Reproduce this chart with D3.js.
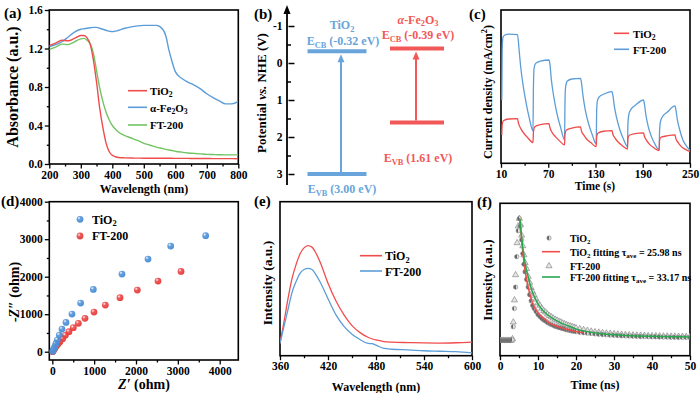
<!DOCTYPE html>
<html>
<head>
<meta charset="utf-8">
<script src="https://cdn.jsdelivr.net/npm/d3@7"></script>
<style>
  body { margin: 0; background: #fff; }
  text { font-family: "Liberation Serif", "Times New Roman", serif; font-weight: bold; }
</style>
</head>
<body>
<svg id="fig" width="700" height="393"></svg>
<script>
// ---------- data ----------

// (a) UV-vis absorbance
const absWl = [200,220,240,260,280,300,310,320,330,340,350,360,370,380,390,400,410,420,440,460,480,500,520,540,560,570,580,590,600,620,640,660,680,700,720,740,760,780,800];
const absTiO2 = [1.23,1.255,1.285,1.28,1.305,1.335,1.335,1.31,1.24,1.08,0.85,0.58,0.38,0.22,0.13,0.09,0.075,0.068,0.064,0.062,0.061,0.06,0.06,0.06,0.059,0.059,0.059,0.059,0.058,0.058,0.058,0.057,0.057,0.057,0.056,0.056,0.056,0.056,0.055];
const absFe2O3 = [1.22,1.24,1.27,1.32,1.37,1.40,1.405,1.41,1.415,1.42,1.42,1.41,1.40,1.39,1.38,1.375,1.38,1.39,1.41,1.425,1.435,1.44,1.44,1.44,1.40,1.33,1.18,1.06,0.96,0.89,0.85,0.82,0.78,0.73,0.69,0.655,0.625,0.625,0.65];
const absFT200 = [1.19,1.215,1.245,1.24,1.27,1.30,1.305,1.285,1.25,1.15,0.97,0.79,0.65,0.54,0.46,0.40,0.36,0.33,0.295,0.27,0.245,0.215,0.195,0.175,0.16,0.152,0.145,0.14,0.133,0.123,0.115,0.11,0.105,0.10,0.098,0.096,0.095,0.095,0.095];

// (b) band positions (V vs NHE)
const bandNames = ["TiO2", "Fe2O3"];
const bandECB = [-0.32, -0.39];
const bandEVB = [3.00, 1.61];

// (c) transient photocurrent (arbitrary units)
const ftTime = [11,11.5,12.5,15,20,31, 33,35,38,42,46,50.6, 51.2,52,54,60,71, 72,74,77,81,86,90.7, 91.3,92,94,100,111, 112,114,117,121,126,130.9, 131.5,132.5,135,141,151, 152,154,157,161,166,170.6, 171.2,172.5,175,181,191, 192,194,197,201,206,210.8, 211.4,212.5,215,221,231, 232,234,237,241,246,250];
const ftJ = [.413,.739,.822,.837,.843,.839, .739,.63,.511,.391,.293,.211, .5,.62,.652,.667,.674, .652,.543,.435,.326,.228,.152, .413,.496,.535,.55,.554, .533,.446,.348,.261,.185,.126, .348,.409,.435,.452,.467, .446,.37,.293,.217,.152,.109, .261,.322,.352,.38,.413, .391,.315,.239,.174,.12,.087, .217,.272,.304,.333,.374, .352,.283,.217,.152,.109,.083];
const tiTime = [11,11.5,13,20,31, 32,35,39,44,50.6, 51.2,53,60,71, 72,75,79,84,90.7, 91.3,93,100,111, 112,115,119,124,130.9, 131.5,133,140,151, 152,155,159,164,170.6, 171.2,173,180,191, 192,195,199,204,210.8, 211.4,213,220,231, 232,235,239,244,250];
const tiJ = [.185,.25,.278,.289,.291, .265,.228,.196,.167,.135, .207,.239,.252,.259, .235,.2,.174,.148,.12, .191,.217,.23,.237, .213,.185,.157,.135,.109, .174,.196,.209,.213, .191,.163,.137,.115,.093, .163,.183,.193,.198, .178,.148,.122,.102,.083, .152,.17,.178,.185, .163,.135,.109,.091,.076];

// (d) Nyquist plot (ohm)
const tiZre = [8,24,40,64,88,120,167,231,327,470,677,980,1665,2287,2829,3665];
const tiZim = [9,44,89,151,222,311,444,604,782,1004,1298,1662,2071,2471,2818,3093];
const ftZre = [8,24,40,64,96,135,183,247,311,398,502,622,781,996,1267,1618,2032,2526,3076];
const ftZim = [0,27,62,98,151,204,267,347,436,533,640,756,889,1058,1244,1440,1644,1884,2142];

// (e) PL spectra (a.u.)
const plWl = [360,365,370,375,380,385,390,395,400,405,410,420,430,440,450,460,470,475,480,490,500,520,540,560,580,600];
const plTiO2 = [.08,.22,.37,.50,.59,.66,.70,.715,.705,.665,.61,.47,.355,.265,.195,.15,.12,.11,.102,.092,.088,.085,.083,.082,.084,.088];
const plFT200 = [.08,.19,.30,.41,.48,.535,.56,.567,.56,.525,.48,.37,.265,.19,.14,.105,.08,.078,.068,.047,.042,.038,.032,.029,.026,.018];

// (f) TRPL decay (a.u.)
const trTiT = [0,0.4,0.8,1.2,1.6,2.0,2.4,2.8,3.2,3.5,3.8,4.1,4.4,4.8,5.1,5.4,5.7,6.0,6.3,6.6,7.0,7.4,7.8,8.2,8.6,9.0,9.5,10,10.5,11,11.5,12,12.5,13,13.5,14,14.5,15,15.5,16,16.5,17,17.5,18,18.5,19,19.5,20,21,22,23,24,25,26,27,28,29,30,31,32,33,34,35,36,37,38,39,40,41,42,43,44,45,46,47,48,49,50];
const trTiV = [.10,.10,.10,.10,.10,.10,.10,.10,.105,.19,.31,.45,.65,.82,.90,.85,.76,.67,.60,.55,.50,.45,.40,.36,.33,.31,.29,.27,.258,.245,.235,.228,.218,.212,.205,.2,.193,.19,.185,.182,.178,.175,.17,.168,.165,.162,.16,.158,.154,.151,.148,.146,.143,.141,.139,.137,.135,.134,.133,.131,.13,.129,.128,.127,.126,.126,.125,.124,.124,.123,.122,.122,.121,.121,.12,.12,.12,.119];
const trFtT = [0.2,0.6,1.0,1.4,1.8,2.2,2.6,3.0,3.3,3.5,3.8,4.1,4.5,4.8,5.1,5.4,5.7,6.0,6.3,6.6,7.0,7.4,7.8,8.2,8.6,9.0,9.5,10,10.5,11,11.5,12,12.5,13,13.5,14,14.5,15,15.5,16,16.5,17,17.5,18,18.5,19,19.5,20,21,22,23,24,25,26,27,28,29,30,31,32,33,34,35,36,37,38,39,40,41,42,43,44,45,46,47,48,49,50];
const trFtV = [.10,.10,.10,.10,.10,.10,.10,.10,.11,.22,.365,.53,.74,.85,.90,.86,.79,.72,.66,.61,.57,.52,.48,.445,.42,.395,.37,.345,.33,.31,.295,.285,.272,.262,.254,.246,.238,.232,.225,.22,.213,.208,.203,.198,.194,.19,.186,.182,.176,.17,.165,.16,.156,.153,.15,.147,.145,.143,.141,.139,.138,.136,.135,.134,.133,.132,.131,.13,.13,.129,.128,.128,.127,.127,.126,.126,.125,.125];
const fitTiT = [5.2,5.6,6.0,6.5,7.0,7.5,8.0,8.5,9,10,11,12,13,14,15,16,17,18,19,20,21,22];
const fitTiV = [.90,.79,.68,.58,.50,.44,.39,.35,.32,.28,.255,.235,.215,.203,.193,.184,.177,.17,.164,.159,.155,.151];
const fitFtT = [5.2,5.6,6.0,6.5,7.0,7.5,8.0,8.5,9,10,11,12,13,14,15,16,18,20,22,24,26,28,30,33,36,40,45,50];
const fitFtV = [.90,.80,.71,.62,.56,.51,.46,.42,.39,.34,.305,.28,.26,.243,.228,.215,.195,.176,.163,.153,.146,.141,.137,.133,.13,.127,.125,.123];

// ---------- drawing ----------
const RED = "#f04c4c", BLUE = "#5c9dd8", GREEN = "#72c462", GREEN2 = "#26a94e";
const BRED = "#f25858", BBLUE = "#69a5da";
const svg = d3.select("#fig");
const defs = svg.append("defs");

// text with sub/superscripts: parts = [[string, kind]]
function rich(t, parts, fs) {
  let shift = 0;
  parts.forEach(([s, k]) => {
    const want = k === "sub" ? fs * 0.22 : k === "sup" ? -fs * 0.4 : 0;
    const sp = t.append("tspan").text(s).attr("dy", want - shift);
    if (k === "sub" || k === "sup") sp.attr("font-size", fs * 0.7);
    if (k === "it") sp.attr("font-style", "italic");
    shift = want;
  });
  return t;
}

function label(x, y, parts, fs, opts = {}) {
  const t = svg.append("text").attr("x", x).attr("y", y).attr("font-size", fs)
    .attr("text-anchor", opts.anchor || "start").attr("fill", opts.fill || "#000");
  if (opts.weight) t.attr("font-weight", opts.weight);
  return rich(t, parts, fs);
}

function yTitle(cx, cy, parts, fs) {
  const t = svg.append("text").attr("transform", `translate(${cx + fs * 0.33},${cy}) rotate(-90)`)
    .attr("font-size", fs).attr("text-anchor", "middle");
  return rich(t, parts, fs);
}

function styleAxis(g) {
  g.attr("font-family", null).attr("font-size", 11.5).attr("font-weight", "bold");
  g.selectAll(".domain").remove();
  g.selectAll("line").attr("stroke-width", 1.3);
  g.selectAll("text").attr("fill", "#000");
}

function frame(x, y, o) {
  const [x0, x1] = x.range(), [y0, y1] = y.range();
  const g = svg.append("g");
  if (o.xMinor) g.append("g").attr("transform", `translate(0,${y0})`)
    .call(d3.axisBottom(x).tickValues(o.xMinor).tickSize(2.5).tickFormat("")).call(styleAxis);
  if (o.xTicks) g.append("g").attr("transform", `translate(0,${y0})`)
    .call(d3.axisBottom(x).tickValues(o.xTicks).tickSize(4.5).tickPadding(2).tickFormat(o.xFmt || String)).call(styleAxis);
  if (o.yMinor) g.append("g").attr("transform", `translate(${x0},0)`)
    .call(d3.axisLeft(y).tickValues(o.yMinor).tickSize(2.5).tickFormat("")).call(styleAxis);
  if (o.yTicks) g.append("g").attr("transform", `translate(${x0},0)`)
    .call(d3.axisLeft(y).tickValues(o.yTicks).tickSize(4.5).tickPadding(2).tickFormat(o.yFmt || String)).call(styleAxis);
  g.append("rect").attr("x", x0).attr("y", y1).attr("width", x1 - x0).attr("height", y0 - y1)
    .attr("fill", "none").attr("stroke", "#000").attr("stroke-width", 1.6);
  const id = "clip" + o.name;
  defs.append("clipPath").attr("id", id).append("rect")
    .attr("x", x0).attr("y", y1).attr("width", x1 - x0).attr("height", y0 - y1);
  return svg.append("g").attr("clip-path", `url(#${id})`);
}

function path(g, xs, ys, x, y, color, w) {
  g.append("path").datum(xs.map((v, i) => [v, ys[i]]))
    .attr("fill", "none").attr("stroke", color).attr("stroke-width", w || 1.4)
    .attr("d", d3.line().x(d => x(d[0])).y(d => y(d[1])).curve(d3.curveMonotoneX));
}

function legLine(x0, x1, y, color, w) {
  svg.append("line").attr("x1", x0).attr("x2", x1).attr("y1", y).attr("y2", y)
    .attr("stroke", color).attr("stroke-width", w || 1.6);
}

// panel labels
[["(a)", 4, 18], ["(b)", 254, 19], ["(c)", 469, 19], ["(d)", 1, 206], ["(e)", 254, 206], ["(f)", 477, 207]]
  .forEach(([s, x, y]) => label(x, y, [[s]], 15));

// ---- (a) ----
{
  const x = d3.scaleLinear().domain([200, 800]).range([49.3, 238.3]);
  const y = d3.scaleLinear().domain([0, 1.6]).range([164, 10]);
  const g = frame(x, y, { name: "a", xTicks: d3.range(200, 801, 100), xMinor: d3.range(250, 800, 100),
    yTicks: [0, 0.4, 0.8, 1.2, 1.6], yMinor: [0.2, 0.6, 1.0, 1.4], yFmt: d3.format(".1f") });
  path(g, absWl, absFe2O3, x, y, BLUE);
  path(g, absWl, absFT200, x, y, GREEN);
  path(g, absWl, absTiO2, x, y, RED);
  yTitle(13, 87, [["Absorbance (a.u.)"]], 16);
  label(144, 193, [["Wavelength (nm)"]], 12, { anchor: "middle" });
  legLine(128, 147, 90.7, RED); legLine(128, 147, 107.3, BLUE); legLine(128, 147, 125, GREEN);
  label(150, 95, [["TiO"], ["2", "sub"]], 11);
  label(150, 111.5, [["α-Fe"], ["2", "sub"], ["O"], ["3", "sub"]], 11);
  label(150, 129, [["FT-200"]], 11);
}

// ---- (b) ----
{
  const y = d3.scaleLinear().domain([-1, 3]).range([26, 174]);
  const x = d3.scalePoint().domain(bandNames).range([337, 417]);
  const ax = 287;
  const gb = svg.append("g");
  gb.append("g").attr("transform", `translate(${ax},0)`)
    .call(d3.axisLeft(y).tickValues([-0.5, 0.5, 1.5, 2.5]).tickSize(-4).tickFormat("")).call(styleAxis);
  gb.append("g").attr("transform", `translate(${ax + 1.5},0)`)
    .call(d3.axisLeft(y).tickValues([-1, 0, 1, 2, 3]).tickSize(-6).tickPadding(6).tickFormat(String)).call(styleAxis);
  gb.selectAll("line").attr("stroke-width", 1.5);
  gb.append("line").attr("x1", ax).attr("x2", ax).attr("y1", 185).attr("y2", 12)
    .attr("stroke", "#000").attr("stroke-width", 1.8);
  gb.append("path").attr("d", `M${ax},5 L${ax - 3.5},14 L${ax + 3.5},14 Z`).attr("fill", "#000");
  yTitle(262, 93, [["Potential "], ["vs.", "it"], [" NHE (V)"]], 13);

  const cols = [BBLUE, BRED];
  const barW = [59, 54];
  bandNames.forEach((n, i) => {
    const cx = x(n), c = cols[i];
    [bandECB[i], bandEVB[i]].forEach(v => {
      svg.append("line").attr("x1", cx - barW[i] / 2).attr("x2", cx + barW[i] / 2)
        .attr("y1", y(v)).attr("y2", y(v)).attr("stroke", c).attr("stroke-width", 4);
    });
    const ax2 = cx + (i === 0 ? 4 : -1);
    svg.append("line").attr("x1", ax2).attr("x2", ax2).attr("y1", y(bandEVB[i]) - 2).attr("y2", y(bandECB[i]) + 10)
      .attr("stroke", c).attr("stroke-width", 2);
    const tip = y(bandECB[i]) + 3;
    svg.append("path").attr("d", `M${ax2},${tip} L${ax2 - 3.5},${tip + 8} L${ax2 + 3.5},${tip + 8} Z`).attr("fill", c);
  });
  const reg = { weight: "normal", anchor: "middle" };
  label(342, 29, [["TiO"], ["2", "sub"]], 12, { ...reg, fill: BBLUE });
  label(343, 45, [["E"], ["CB", "sub"], [" (-0.32 eV)"]], 12, { ...reg, fill: BBLUE });
  label(342, 193, [["E"], ["VB", "sub"], [" (3.00 eV)"]], 12, { ...reg, fill: BBLUE });
  label(418, 23.5, [["α", "it"], ["-Fe"], ["2", "sub"], ["O"], ["3", "sub"]], 12, { ...reg, fill: BRED });
  label(418, 39, [["E"], ["CB", "sub"], [" (-0.39 eV)"]], 12, { ...reg, fill: BRED });
  label(418, 162, [["E"], ["VB", "sub"], [" (1.61 eV)"]], 12, { ...reg, fill: BRED });
}

// ---- (c) ----
{
  const x = d3.scaleLinear().domain([10, 250]).range([501, 690]);
  const y = d3.scaleLinear().domain([0, 1]).range([163.3, 10]);
  const g = frame(x, y, { name: "c", xTicks: [10, 70, 130, 190, 250], xMinor: [40, 100, 160, 220] });
  path(g, ftTime, ftJ, x, y, BLUE, 1.3);
  path(g, tiTime, tiJ, x, y, RED, 1.3);
  yTitle(488, 92, [["Current density (mA/cm"], ["2", "sup"], [")"]], 12);
  label(595, 190, [["Time (s)"]], 11.5, { anchor: "middle" });
  legLine(614, 629, 33.3, RED); legLine(614, 629, 49.3, BLUE);
  label(633, 37.5, [["TiO"], ["2", "sub"]], 11);
  label(633, 53.5, [["FT-200"]], 11);
}

// ---- (d) ----
{
  const x = d3.scaleLinear().domain([-72, 4445]).range([49.3, 238.3]);
  const y = d3.scaleLinear().domain([-221, 4000]).range([360, 201.7]);
  const g = frame(x, y, { name: "d", xTicks: [0, 1000, 2000, 3000, 4000], xMinor: [500, 1500, 2500, 3500],
    yTicks: [0, 1000, 2000, 3000, 4000], yMinor: [500, 1500, 2500, 3500] });
  [["gb", "#4d8fd6"], ["gr", "#e8403f"]].forEach(([id, c]) => {
    const rg = defs.append("radialGradient").attr("id", id).attr("cx", "35%").attr("cy", "32%").attr("r", "70%");
    rg.append("stop").attr("offset", "0%").attr("stop-color", "#fff");
    rg.append("stop").attr("offset", "35%").attr("stop-color", c).attr("stop-opacity", 0.85);
    rg.append("stop").attr("offset", "100%").attr("stop-color", c);
  });
  const dots = (xs, ys, id) => g.append("g").selectAll("circle").data(xs.map((v, i) => [v, ys[i]]))
    .join("circle").attr("cx", d => x(d[0])).attr("cy", d => y(d[1])).attr("r", 3.4).attr("fill", `url(#${id})`);
  dots(ftZre, ftZim, "gr");
  dots(tiZre, tiZim, "gb");
  yTitle(14, 292, [["-Z″", "it"], [" (ohm)"]], 14);
  label(144, 389, [["Z′", "it"], [" (ohm)"]], 14, { anchor: "middle" });
  svg.append("circle").attr("cx", 80).attr("cy", 219.3).attr("r", 3.4).attr("fill", "url(#gb)");
  svg.append("circle").attr("cx", 80).attr("cy", 236).attr("r", 3.4).attr("fill", "url(#gr)");
  label(92, 223.5, [["TiO"], ["2", "sub"]], 12);
  label(92, 240, [["FT-200"]], 12);
}

// ---- (e) ----
{
  const x = d3.scaleLinear().domain([360, 600]).range([280, 472]);
  const y = d3.scaleLinear().domain([0, 1]).range([355.7, 201.7]);
  const g = frame(x, y, { name: "e", xTicks: [360, 420, 480, 540, 600], xMinor: [390, 450, 510, 570] });
  path(g, plWl, plTiO2, x, y, RED, 1.3);
  path(g, plWl, plFT200, x, y, BLUE, 1.3);
  yTitle(268, 283, [["Intensity (a.u.)"]], 13.5);
  label(376, 391, [["Wavelength (nm)"]], 12, { anchor: "middle" });
  legLine(360, 382, 255.7, RED); legLine(360, 382, 271, BLUE);
  label(385, 260, [["TiO"], ["2", "sub"]], 12);
  label(385, 275.5, [["FT-200"]], 12);
}

// ---- (f) ----
{
  const x = d3.scaleLinear().domain([0, 50]).range([500, 690]);
  const y = d3.scaleLinear().domain([0, 1]).range([355.7, 203.3]);
  const g = frame(x, y, { name: "f", xTicks: [0, 10, 20, 30, 40, 50], xMinor: [5, 15, 25, 35, 45] });
  const hg = defs.append("linearGradient").attr("id", "half");
  hg.append("stop").attr("offset", "50%").attr("stop-color", "#666");
  hg.append("stop").attr("offset", "50%").attr("stop-color", "#ddd");
  const tri = d3.symbol(d3.symbolTriangle, 16);
  g.append("g").selectAll("path").data(trFtT.map((v, i) => [v, trFtV[i]])).join("path")
    .attr("transform", d => `translate(${x(d[0])},${y(d[1])})`).attr("d", tri)
    .attr("fill", "#e6e6e6").attr("stroke", "#888").attr("stroke-width", 0.7);
  g.append("g").selectAll("circle").data(trTiT.map((v, i) => [v, trTiV[i]])).join("circle")
    .attr("cx", d => x(d[0])).attr("cy", d => y(d[1])).attr("r", 2.2)
    .attr("fill", "url(#half)").attr("stroke", "#888").attr("stroke-width", 0.6);
  path(g, fitTiT, fitTiV, x, y, RED, 1.5);
  path(g, fitFtT, fitFtV, x, y, GREEN2, 1.5);
  yTitle(488, 280, [["Intensity (a.u.)"]], 13);
  label(595, 389, [["Time (ns)"]], 12, { anchor: "middle" });
  svg.append("circle").attr("cx", 549).attr("cy", 238).attr("r", 2.2).attr("fill", "url(#half)").attr("stroke", "#888").attr("stroke-width", 0.6);
  legLine(542, 560, 251.7, RED);
  svg.append("path").attr("transform", "translate(549,266)").attr("d", tri).attr("fill", "#e6e6e6").attr("stroke", "#888").attr("stroke-width", 0.7);
  legLine(542, 560, 277, GREEN2);
  label(570, 241.5, [["TiO"], ["2", "sub"]], 10);
  label(570, 255.5, [["TiO"], ["2", "sub"], [" fitting τ"], ["ave", "sub"], [" = 25.98 ns"]], 10);
  label(570, 270, [["FT-200"]], 10);
  label(570, 281, [["FT-200 fitting τ"], ["ave", "sub"], [" = 33.17 ns"]], 10);
}
</script>
</body>
</html>
